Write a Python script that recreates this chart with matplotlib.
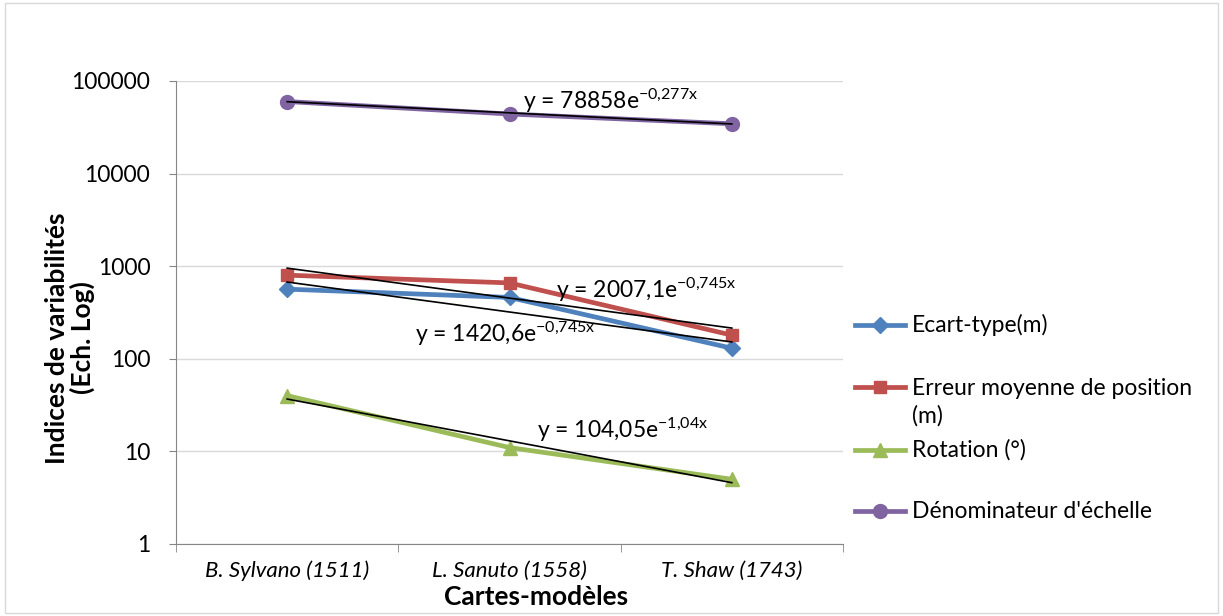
import numpy as np
import matplotlib
matplotlib.use("Agg")
from matplotlib import pyplot as plt
from matplotlib.patches import Rectangle
from matplotlib.lines import Line2D

plt.rcParams['font.family'] = ['Lato', 'DejaVu Sans']
plt.rcParams['mathtext.fontset'] = 'custom'
plt.rcParams['mathtext.rm'] = 'Lato'
plt.rcParams['mathtext.it'] = 'Lato:italic'

cartes = ["B. Sylvano (1511)", "L. Sanuto (1558)", "T. Shaw (1743)"]

ecart_type = [565, 460, 130]
erreur_moy = [800, 660, 180]
rotation = [40, 11, 5]
denominateur = [60000, 44000, 34500]

# exponential trendlines y = a*exp(b*x), x = 1..3
trend_ecart = (1420.6, -0.745)
trend_erreur = (2007.1, -0.745)
trend_rot = (104.05, -1.04)
trend_denom = (78858, -0.277)

blue = "#4F81BD"
red = "#C0504D"
green = "#9BBB59"
purple = "#8064A2"

W, H = 1223, 616
fig = plt.figure(figsize=(12.23, 6.16), dpi=100)
ax = fig.add_axes([176/W, 1-544/H, (843-176)/W, (544-81)/H])

series = [
    (ecart_type, blue, "D", 8, "Ecart-type(m)"),
    (erreur_moy, red, "s", 9, "Erreur moyenne de position\n(m)"),
    (rotation, green, "^", 10, "Rotation (°)"),
    (denominateur, purple, "o", 10, "Dénominateur d'échelle"),
]

x = np.arange(len(cartes))
for vals, col, mk, ms, lab in series:
    ax.plot(x, vals, color=col, lw=3.4, marker=mk, ms=ms, zorder=3)

xt = np.linspace(1, 3, 50)
for a, b in [trend_ecart, trend_erreur, trend_rot, trend_denom]:
    ax.plot(xt - 1, a * np.exp(b * xt), color="black", lw=1.2, zorder=4)

fs = 16.5
ax.text(1.059, 60800, r"y = 78858e$^{\mathrm{-0{,}277x}}$", fontsize=fs, va="center", zorder=5)
ax.text(1.207, 553, r"y = 2007,1e$^{\mathrm{-0{,}745x}}$", fontsize=fs, va="center", zorder=5)
ax.text(0.577, 185, r"y = 1420,6e$^{\mathrm{-0{,}745x}}$", fontsize=fs, va="center", zorder=5)
ax.text(1.122, 17.0, r"y = 104,05e$^{\mathrm{-1{,}04x}}$", fontsize=fs, va="center", zorder=5)

ax.set_yscale("log")
ax.set_ylim(1, 100000)
ax.set_xlim(-0.5, 2.5)
ax.set_yticks([1, 10, 100, 1000, 10000, 100000])
ax.set_yticklabels(["1", "10", "100", "1000", "10000", "100000"])
ax.yaxis.set_minor_locator(matplotlib.ticker.NullLocator())
ax.grid(axis="y", color="#D9D9D9", lw=1)
ax.set_axisbelow(True)

ax.set_xticks(x)
ax.set_xticklabels(cartes, fontstyle="italic", fontsize=16)
ax.set_xticks([-0.5, 0.5, 1.5, 2.5], minor=True)
ax.tick_params(axis="x", which="major", length=0, pad=12)
ax.tick_params(axis="x", which="minor", length=6, color="#868686", direction="out")
ax.tick_params(axis="y", length=5, color="#868686", direction="out", pad=13.5, labelsize=fs)

for s in ["top", "right"]:
    ax.spines[s].set_visible(False)
for s in ["left", "bottom"]:
    ax.spines[s].set_color("#868686")

fig.text(70/W, 1-338/H, "Indices de variabilités\n(Ech. Log)", rotation=90,
         fontsize=19, fontweight="bold", ha="center", va="center", linespacing=1.0)
fig.text(536/W, 1-597/H, "Cartes-modèles", fontsize=19, fontweight="bold",
         ha="center", va="center")

# legend drawn by hand to follow the reference layout
leg_y = [325, 387, 450, 511]
for (vals, col, mk, ms, lab), py in zip(series, leg_y):
    fig.add_artist(Line2D([855/W, 905/W], [1-py/H, 1-py/H], transform=fig.transFigure,
                          color=col, lw=3.4, marker=None))
    fig.add_artist(Line2D([880/W], [1-py/H], transform=fig.transFigure,
                          color=col, marker=mk, ms=ms, lw=0))
    if "\n" in lab:
        fig.text(912/W, 1-(py+15.5)/H, lab, fontsize=fs, va="center", ha="left", linespacing=1.35)
    else:
        fig.text(912/W, 1-py/H, lab, fontsize=fs, va="center", ha="left")

fig.patches.append(Rectangle((5/W, 3/H), 1213/W, 610/H, transform=fig.transFigure,
                             fill=False, edgecolor="#D9D9D9", lw=1))

plt.savefig("out.png", dpi=100)
